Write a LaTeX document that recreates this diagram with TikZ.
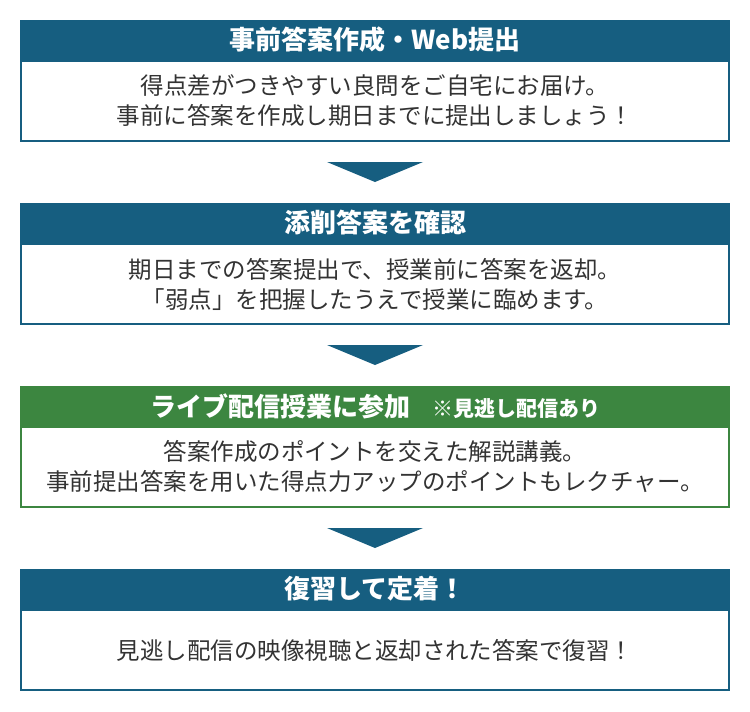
\documentclass[tikz,border=0pt]{standalone}
\usepackage{fontspec}
\setmainfont{Noto Sans CJK JP}
\usetikzlibrary{calc}
\definecolor{hblue}{RGB}{22,94,128}
\definecolor{hgreen}{RGB}{60,134,64}
\definecolor{btext}{RGB}{51,51,51}
\tikzset{
  hdr/.style={fill=#1, text=white, minimum width=710pt, minimum height=40pt, inner sep=0pt,
    font=\fontsize{26}{30}\selectfont\bfseries},
  bodybox/.style={draw=#1, line width=2pt, fill=white, minimum width=708pt, minimum height=80pt,
    inner sep=0pt, align=center, text=btext, font=\fontsize{23.5}{30}\selectfont},
  tri/.style={fill=hblue}
}
\begin{document}
\begin{tikzpicture}[x=1pt,y=-1pt]
\useasboundingbox (0,0) rectangle (750,712);
% box 1
\node[bodybox=hblue] (b1) at (375,101) {得点差がつきやすい良問をご自宅にお届け。\\事前に答案を作成し期日までに提出しましょう！};
\node[hdr=hblue] (h1) at (375,40) {事前答案作成・Web提出};
% box 2
\node[bodybox=hblue] (b2) at (375,284) {期日までの答案提出で、授業前に答案を返却。\\「弱点」を把握したうえで授業に臨めます。};
\node[hdr=hblue] (h2) at (375,223) {添削答案を確認};
% box 3
\node[bodybox=hgreen] (b3) at (375,467) {答案作成のポイントを交えた解説講義。\\事前提出答案を用いた得点力アップのポイントもレクチャー。};
\node[hdr=hgreen] (h3) at (375,406) {ライブ配信授業に参加\hspace{22pt}{\fontsize{21}{24}\selectfont ※見逃し配信あり}};
% box 4
\node[bodybox=hblue] (b4) at (375,650) {見逃し配信の映像視聴と返却された答案で復習！};
\node[hdr=hblue] (h4) at (375,589) {復習して定着！};
% arrows
\foreach \a/\b in {b1/h2,b2/h3,b3/h4}{
  \fill[tri] ($(\a.south)+(-48,20)$) -- ($(\a.south)+(48,20)$) -- ($(\a.south)+(0,40)$) -- cycle;
}
\end{tikzpicture}
\end{document}
